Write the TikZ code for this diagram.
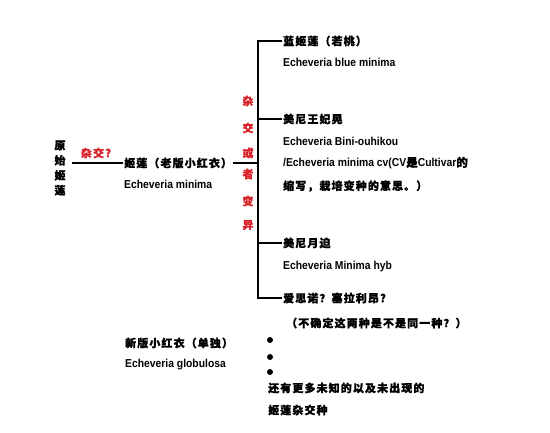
\documentclass[tikz,border=0pt]{standalone}
\usepackage{fontspec}
\newfontfamily\zh[LetterSpace=10,FakeBold=1.2]{Noto Sans CJK SC}
\newfontfamily\en[FakeStretch=0.9]{Liberation Sans}
\newcommand{\zhb}{\zh\bfseries}
\newcommand{\enb}{\en\bfseries}
\definecolor{hongse}{HTML}{D8232A}

\begin{document}
\begin{tikzpicture}[x=1pt,y=-1pt,
  every node/.style={inner sep=1pt,anchor=west},
  cn/.style={font=\zhb\fontsize{11}{13}\selectfont},
  lt/.style={font=\enb\fontsize{11.5}{13}\selectfont},
  red/.style={cn,text=hongse,anchor=center},
  stem/.style={line width=2.8pt,line join=miter},
  dot/.style={circle,fill,inner sep=0pt,minimum size=6pt,anchor=center}]
\useasboundingbox (0,0) rectangle (550,432);
% root and the old small red
\node[cn,align=center,anchor=center,inner xsep=6pt] (root) at (60,168) {原\\[2pt]始\\[2pt]姬\\[2pt]莲};
\node[cn] (mid) at (123,163) {姬莲（老版小红衣）};
\node[lt] (midl) at (123,184) {Echeveria minima};
\node[red] (q) at (96,153) {杂交?};
\coordinate (hub) at (258,163);
% branches
\node[cn] (b1) at (282,41) {蓝姬莲（若桃）};
\node[lt] (b1l) at (282,62) {Echeveria blue minima};
\node[cn] (b2) at (282,119) {美尼王妃晃};
\node[lt] (b2l) at (282,141) {Echeveria Bini-ouhikou};
\node[lt] (b2m) at (282,163) {/Echeveria minima cv(CV{\zhb 是}Cultivar{\zhb 的}};
\node[cn] (b2n) at (282,186) {缩写，栽培变种的意思。）};
\node[cn] (b3) at (282,243) {美尼月迫};
\node[lt] (b3l) at (282,267) {Echeveria Minima hyb};
\node[cn] (b4) at (282,298) {爱思诺？塞拉利昂?};
\node[cn] (b4l) at (285,323) {（不确定这两种是不是同一种？）};
% red vertical label
\foreach \c/\y [count=\i] in {杂/101,交/128,或/153,者/174,变/201,异/225}
  \node[red] (v\i) at (248,\y) {\c};
% lines
\draw[line width=2pt] (root.east |- mid.west) -- (mid.west);
\draw[stem] (mid.east) -- (hub);
\draw[stem] (b1.west) -| (hub) |- (b4.west);
\draw[stem] (hub) |- (b2.west);
\draw[stem] (hub) |- (b3.west);
% the rest
\node[cn] (new) at (124,343) {新版小红衣（单独）};
\node[lt] (newl) at (124,365) {Echeveria globulosa};
\node[dot] (d1) at (270,340) {};
\node[dot] (d2) at (270,357) {};
\node[dot] (d3) at (270,372) {};
\node[cn] (more) at (267,388) {还有更多未知的以及未出现的};
\node[cn] (more2) at (267,410) {姬莲杂交种};
\end{tikzpicture}
\end{document}
